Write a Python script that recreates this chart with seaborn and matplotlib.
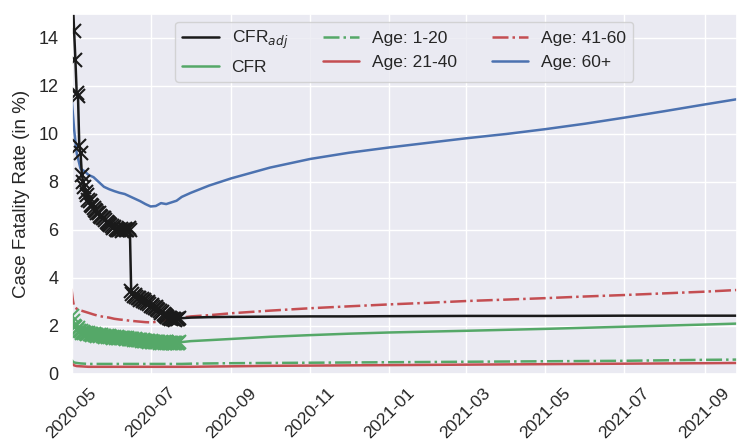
import numpy as np
import pandas as pd
import matplotlib
matplotlib.use("Agg")
import matplotlib.pyplot as plt
import matplotlib.dates as mdates
import seaborn as sns

# ---------------- data ----------------
obs_start = "2020-05-01"
cfr_adj_obs = [17.0, 15.6, 14.3, 13.1, 11.7, 11.6, 9.5, 9.2, 8.3, 8.0,
               7.8, 7.6, 7.45, 7.25, 7.2, 7.05, 7.0, 6.9, 6.85, 6.78,
               6.7, 6.72, 6.6, 6.55, 6.5, 6.48, 6.4, 6.35, 6.3, 6.25,
               6.2, 6.18, 6.1, 6.12, 6.05, 6.0, 6.02, 5.98, 6.05, 5.95,
               6.0, 6.05, 5.98, 6.02, 6.1, 6.0, 3.45, 3.35, 3.25, 3.3,
               3.2, 3.15, 3.18, 3.1, 3.12, 3.05, 3.08, 3.0, 2.95, 2.98,
               2.9, 2.85, 2.88, 2.8, 2.75, 2.78, 2.7, 2.65, 2.62, 2.55,
               2.58, 2.5, 2.45, 2.42, 2.38, 2.35, 2.32, 2.3, 2.28, 2.3,
               2.26, 2.3, 2.28, 2.32]
cfr_obs = [2.4, 2.2, 2.0, 1.95, 1.85, 1.9, 1.78, 1.8, 1.72, 1.75,
           1.7, 1.72, 1.68, 1.7, 1.66, 1.68, 1.64, 1.66, 1.62, 1.64,
           1.6, 1.62, 1.59, 1.61, 1.58, 1.6, 1.56, 1.58, 1.55, 1.57,
           1.54, 1.55, 1.52, 1.54, 1.51, 1.53, 1.5, 1.52, 1.49, 1.5,
           1.48, 1.49, 1.46, 1.48, 1.45, 1.46, 1.44, 1.45, 1.42, 1.44,
           1.41, 1.42, 1.4, 1.41, 1.39, 1.4, 1.37, 1.39, 1.36, 1.37,
           1.35, 1.36, 1.34, 1.35, 1.33, 1.34, 1.32, 1.34, 1.31, 1.33,
           1.31, 1.32, 1.3, 1.32, 1.3, 1.31, 1.29, 1.31, 1.29, 1.3,
           1.29, 1.3, 1.3, 1.32]

proj_dates = ["2020-07-23", "2020-08-01", "2020-08-15", "2020-09-01", "2020-10-01",
              "2020-11-01", "2020-12-01", "2021-01-01", "2021-03-01", "2021-05-01",
              "2021-07-01", "2021-09-01", "2021-09-26"]
cfr_adj_proj = [2.32, 2.35, 2.37, 2.38, 2.39, 2.4, 2.4, 2.41, 2.42, 2.42, 2.43, 2.43, 2.43]
cfr_proj = [1.32, 1.37, 1.41, 1.46, 1.55, 1.62, 1.68, 1.73, 1.8, 1.88, 1.97, 2.06, 2.1]

age_dates = ["2020-05-01", "2020-05-02", "2020-05-03", "2020-05-05", "2020-05-08",
             "2020-05-11", "2020-05-14", "2020-05-18", "2020-05-22", "2020-05-26",
             "2020-05-30", "2020-06-03", "2020-06-07", "2020-06-11", "2020-06-15",
             "2020-06-19", "2020-06-23", "2020-06-27", "2020-07-01", "2020-07-05",
             "2020-07-09", "2020-07-13", "2020-07-17", "2020-07-21", "2020-07-25",
             "2020-08-01", "2020-08-15", "2020-09-01", "2020-10-01", "2020-11-01",
             "2020-12-01", "2021-01-01", "2021-02-01", "2021-03-01", "2021-04-01",
             "2021-05-01", "2021-06-01", "2021-07-01", "2021-08-01", "2021-09-01",
             "2021-09-26"]
age_60p = [11.6, 10.9, 10.2, 9.2, 8.55, 8.45, 8.3, 8.2, 8.0, 7.8,
           7.7, 7.62, 7.55, 7.5, 7.4, 7.3, 7.2, 7.08, 6.98, 7.0,
           7.12, 7.08, 7.15, 7.22, 7.38, 7.55, 7.85, 8.15, 8.6, 8.96,
           9.22, 9.44, 9.64, 9.82, 10.0, 10.2, 10.43, 10.68, 10.95, 11.23,
           11.45]
age_41_60 = [3.55, 3.1, 2.8, 2.72, 2.65, 2.6, 2.55, 2.48, 2.42, 2.38,
             2.35, 2.3, 2.27, 2.25, 2.22, 2.2, 2.18, 2.16, 2.15, 2.17,
             2.2, 2.25, 2.28, 2.32, 2.35, 2.4, 2.45, 2.53, 2.64, 2.74,
             2.82, 2.9, 2.97, 3.04, 3.1, 3.16, 3.23, 3.29, 3.36, 3.43,
             3.5]
age_21_40 = [0.45, 0.4, 0.36, 0.33, 0.32, 0.31, 0.3, 0.3, 0.3, 0.3,
             0.3, 0.3, 0.3, 0.3, 0.3, 0.3, 0.3, 0.3, 0.3, 0.3,
             0.3, 0.3, 0.3, 0.3, 0.3, 0.3, 0.31, 0.32, 0.34, 0.35,
             0.36, 0.37, 0.38, 0.39, 0.4, 0.41, 0.42, 0.43, 0.44, 0.45,
             0.46]
age_1_20 = [0.6, 0.52, 0.48, 0.46, 0.44, 0.43, 0.42, 0.42, 0.42, 0.42,
            0.42, 0.42, 0.42, 0.42, 0.42, 0.42, 0.42, 0.42, 0.42, 0.42,
            0.42, 0.42, 0.42, 0.42, 0.42, 0.43, 0.44, 0.45, 0.46, 0.47,
            0.48, 0.49, 0.5, 0.51, 0.52, 0.53, 0.54, 0.55, 0.57, 0.59,
            0.6]

# ---------------- style ----------------
sns.set_theme(style="darkgrid", font_scale=1.2)
plt.rcParams["font.family"] = ["Liberation Sans", "DejaVu Sans"]

C_BLUE, C_GREEN, C_RED = "#4C72B0", "#55A868", "#C44E52"
LW = 1.8

fig = plt.figure(figsize=(7.37, 4.43), dpi=100)
ax = fig.add_axes([71.5 / 737, 1 - 374 / 443, 1 - 71.5 / 737, (374 - 14) / 443])

obs_dates = pd.date_range(obs_start, periods=len(cfr_adj_obs), freq="D")
pdates = pd.to_datetime(proj_dates)
adates = pd.to_datetime(age_dates)

for vals, col, ls, lab in [
    (age_1_20, C_GREEN, "-.", "Age: 1-20"),
    (age_21_40, C_RED, "-", "Age: 21-40"),
    (age_41_60, C_RED, "-.", "Age: 41-60"),
    (age_60p, C_BLUE, "-", "Age: 60+"),
]:
    sns.lineplot(x=adates, y=vals, ax=ax, color=col, linestyle=ls, lw=LW, label=lab)

sns.lineplot(x=obs_dates, y=cfr_obs, ax=ax, color=C_GREEN, lw=LW, marker="x",
             markersize=10, markeredgewidth=1.5, markeredgecolor=C_GREEN)
sns.lineplot(x=pdates, y=cfr_proj, ax=ax, color=C_GREEN, lw=LW, label="CFR")
sns.lineplot(x=obs_dates, y=cfr_adj_obs, ax=ax, color="k", lw=LW, marker="x",
             markersize=10, markeredgewidth=1.5, markeredgecolor="k")
sns.lineplot(x=pdates, y=cfr_adj_proj, ax=ax, color="k", lw=LW, label="CFR$_{adj}$")

handles, labels = ax.get_legend_handles_labels()
lookup = dict(zip(labels, handles))
order = ["CFR$_{adj}$", "CFR", "Age: 1-20", "Age: 21-40", "Age: 41-60", "Age: 60+"]
ax.legend([lookup[k] for k in order], order, ncol=3, loc="upper center",
          fontsize=12.5, columnspacing=2.0, handlelength=2.1, handletextpad=0.75,
          borderaxespad=0.45)

ax.set_xlim(pd.Timestamp("2020-05-01"), pd.Timestamp("2021-09-26"))
ax.set_ylim(0, 15)
ax.xaxis.set_major_locator(mdates.MonthLocator(bymonth=[1, 3, 5, 7, 9, 11]))
ax.xaxis.set_major_formatter(mdates.DateFormatter("%Y-%m"))
ax.tick_params(axis="x", labelsize=12.5, pad=2)
ax.tick_params(axis="y", labelsize=13)
plt.setp(ax.get_xticklabels(), rotation=45)
ax.set_xlabel("")
ax.set_ylabel("Case Fatality Rate (in %)", fontsize=13.5, labelpad=6)

fig.savefig("out.png", dpi=100)
